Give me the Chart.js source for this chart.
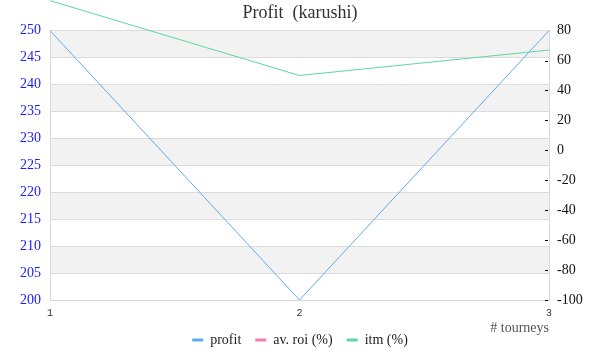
<!DOCTYPE html>
<html>
<head>
<meta charset="utf-8">
<script src="https://cdn.jsdelivr.net/npm/chart.js@4"></script>
<style>
html,body{margin:0;padding:0;background:#fff;}
#wrap{width:600px;height:360px;}
</style>
</head>
<body>
<div id="wrap"><canvas id="c" width="600" height="360"></canvas></div>
<script>
const tourneys = ['1', '2', '3'];
const profit = [250, 200, 250];
const avRoi = [null, null, null];
const itm = [100, 50, 67];
const chartTitle = 'Profit  (karushi)';
const xTitle = '# tourneys';

const SERIF = "'Liberation Serif', 'DejaVu Serif', serif";

const bandsPlugin = {
  id: 'bands',
  beforeDraw(chart) {
    const s = chart.scales.y;
    const a = chart.chartArea;
    const ctx = chart.ctx;
    const ticks = s.ticks;
    ctx.save();
    ctx.fillStyle = '#f2f2f2';
    for (let i = ticks.length - 1, k = 0; i > 0; i--, k++) {
      if (k % 2 === 0) {
        const y1 = s.getPixelForValue(ticks[i].value);
        const y2 = s.getPixelForValue(ticks[i - 1].value);
        ctx.fillRect(a.left, y1, a.right - a.left, y2 - y1);
      }
    }
    ctx.restore();
  }
};

const innerTicksPlugin = {
  id: 'innerTicks',
  afterDatasetsDraw(chart) {
    const s = chart.scales.y1;
    const a = chart.chartArea;
    const ctx = chart.ctx;
    ctx.save();
    ctx.strokeStyle = '#000';
    ctx.lineWidth = 1;
    s.ticks.forEach(t => {
      if (t.value === s.max) return;
      const y = Math.round(s.getPixelForValue(t.value)) + 0.5;
      ctx.beginPath();
      ctx.moveTo(a.right - 4, y);
      ctx.lineTo(a.right - 1, y);
      ctx.stroke();
    });
    ctx.restore();
  }
};

new Chart(document.getElementById('c'), {
  type: 'line',
  data: {
    labels: tourneys,
    datasets: [
      { label: 'profit', data: profit, yAxisID: 'y', borderColor: '#62aaf0', backgroundColor: '#62aaf0', borderWidth: 1, pointRadius: 0, tension: 0, clip: false },
      { label: 'av. roi (%)', data: avRoi, yAxisID: 'y1', borderColor: '#f07eb2', backgroundColor: '#f07eb2', borderWidth: 1, pointRadius: 0, tension: 0, clip: false },
      { label: 'itm (%)', data: itm, yAxisID: 'y1', borderColor: '#5cd8a2', backgroundColor: '#5cd8a2', borderWidth: 1, pointRadius: 0, tension: 0, clip: false }
    ]
  },
  options: {
    responsive: false,
    animation: false,
    layout: { padding: { left: 0, right: 0, top: 0, bottom: 3 } },
    plugins: {
      title: {
        display: true, text: chartTitle, color: '#333',
        font: { family: SERIF, size: 18, weight: 'normal' },
        padding: { top: 2, bottom: 7 }
      },
      legend: {
        position: 'bottom',
        labels: {
          usePointStyle: true, pointStyleWidth: 11,
          color: '#222', font: { family: SERIF, size: 14 }, padding: 14,
          generateLabels(chart) {
            const items = Chart.defaults.plugins.legend.labels.generateLabels(chart);
            items.forEach(it => { it.lineWidth = 3; it.pointStyle = 'line'; });
            return items;
          }
        }
      },
      tooltip: { enabled: false }
    },
    scales: {
      x: {
        offset: false,
        grid: { display: false, drawTicks: false },
        border: { display: true, color: '#d8d8d8' },
        ticks: { color: '#333', font: { family: "'Liberation Mono', monospace", size: 10 }, padding: 7, maxRotation: 0 },
        title: { display: true, text: xTitle, align: 'end', color: '#555', font: { family: SERIF, size: 14 }, padding: { top: 0, bottom: -18 } },
        afterFit(s) { s.height = 19; }
      },
      y: {
        position: 'left', min: 200, max: 250,
        ticks: { stepSize: 5, color: '#1a1aff', font: { family: SERIF, size: 14 }, padding: 9 },
        grid: { color: '#dcdcdc', drawTicks: false },
        border: { display: true, color: '#d8d8d8' },
        afterFit(s) { s.width = 50; }
      },
      y1: {
        position: 'right', min: -100, max: 80,
        ticks: {
          stepSize: 10, color: '#111', font: { family: SERIF, size: 14 }, padding: 8,
          callback(v) { return v % 20 === 0 ? String(v) : ''; }
        },
        grid: { drawOnChartArea: false, drawTicks: false },
        border: { display: true, color: '#d8d8d8' },
        afterFit(s) { s.width = 51; }
      }
    }
  },
  plugins: [bandsPlugin, innerTicksPlugin]
});
</script>
</body>
</html>
